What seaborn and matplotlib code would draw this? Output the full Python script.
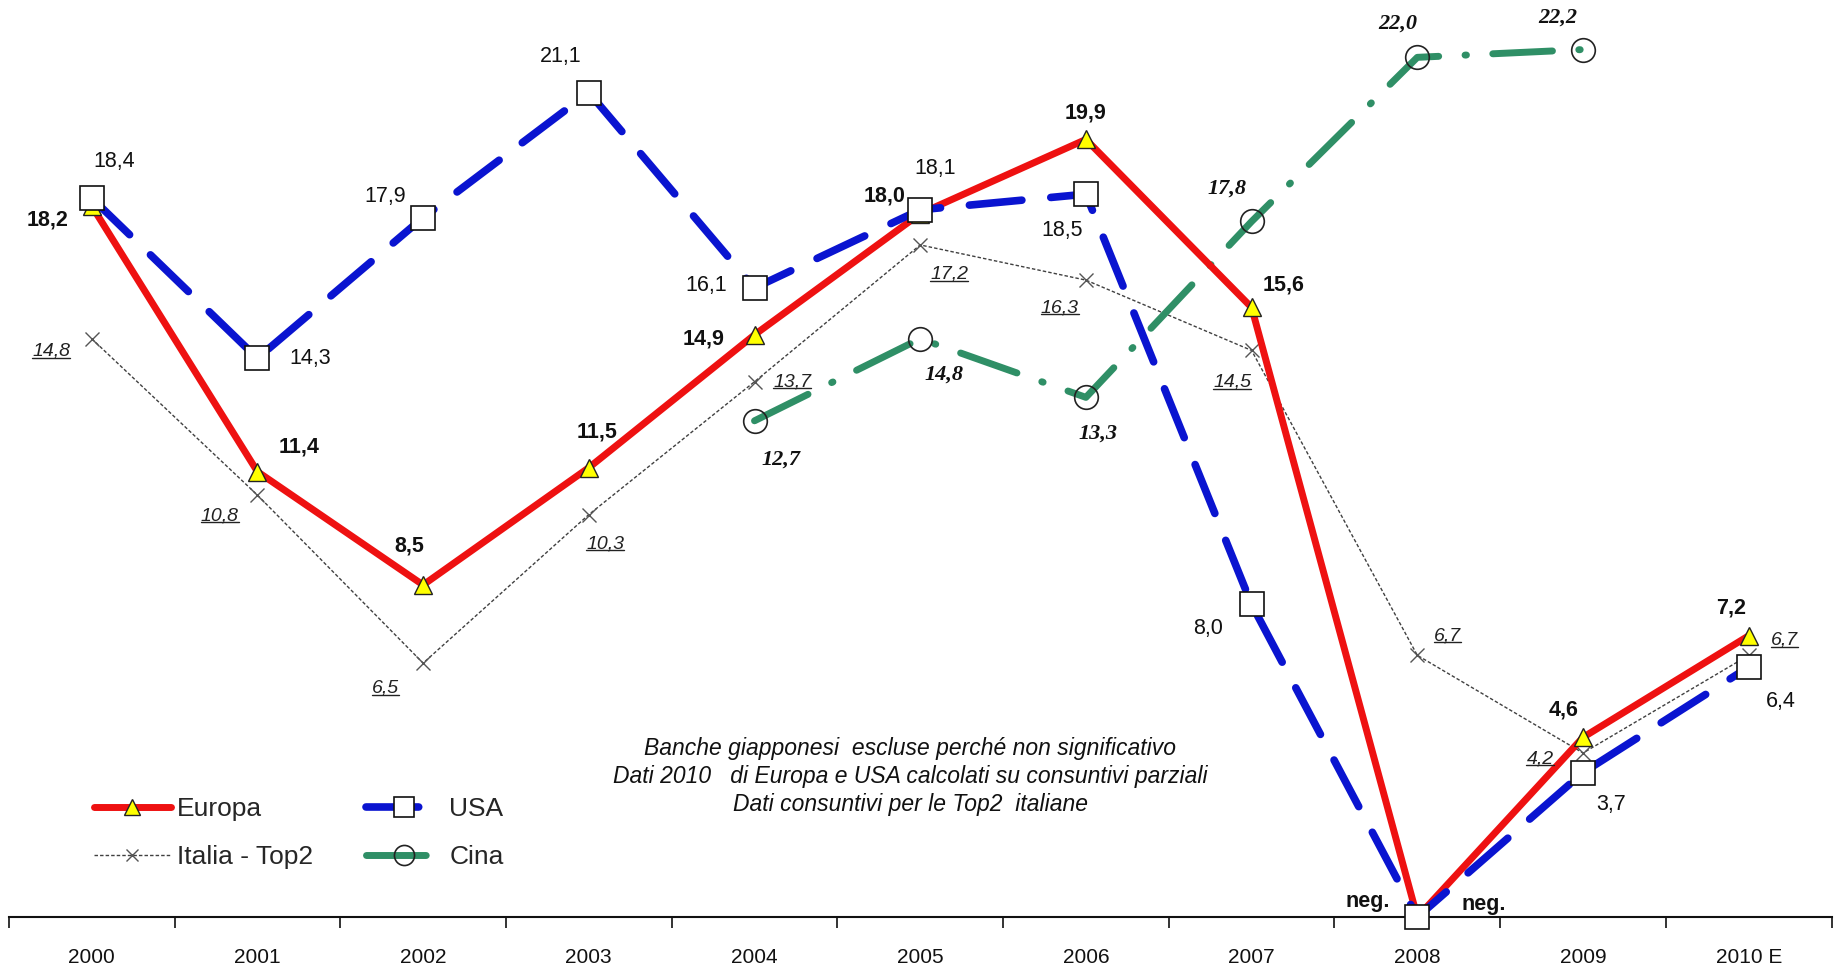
import numpy as np
import pandas as pd
import matplotlib
matplotlib.use("Agg")
import matplotlib.pyplot as plt
from matplotlib.lines import Line2D
import seaborn as sns

years = ['2000', '2001', '2002', '2003', '2004', '2005', '2006', '2007', '2008', '2009', '2010 E']
neg_years = ['2008']  # shown as "neg." and drawn at zero

europa = [18.2, 11.4, 8.5, 11.5, 14.9, 18.0, 19.9, 15.6, 0.0, 4.6, 7.2]
usa = [18.4, 14.3, 17.9, 21.1, 16.1, 18.1, 18.5, 8.0, 0.0, 3.7, 6.4]
italia = [14.8, 10.8, 6.5, 10.3, 13.7, 17.2, 16.3, 14.5, 6.7, 4.2, 6.7]
cina = [np.nan, np.nan, np.nan, np.nan, 12.7, 14.8, 13.3, 17.8, 22.0, 22.2, np.nan]

note_lines = ["Banche giapponesi  escluse perché non significativo",
              "Dati 2010   di Europa e USA calcolati su consuntivi parziali",
              "Dati consuntivi per le Top2  italiane"]

# label offsets in points (dx, dy)
off_europa = [(-32, -10), (30, 18), (-10, 28), (6, 26), (-37, -3), (-26, 13), (0, 19), (23, 16), (-36, 11), (-14, 20), (-13, 20)]
off_usa = [(16, 26), (38, 0), (-27, 15), (-20, 26), (-35, 2), (11, 30), (-17, -26), (-31, -17), (48, 9), (20, -23), (23, -25)]
off_italia = [(-29, -9), (-27, -15), (-27, -18), (12, -21), (27, 0), (21, -21), (-19, -20), (-14, -23), (22, 14), (-31, -4), (26, 11)]
off_cina = [None, None, None, None, (19, -28), (17, -26), (9, -26), (-18, 24), (-14, 24), (-18, 23), None]

sns.set_theme(style='white')
plt.rcParams['font.family'] = ['Liberation Sans', 'DejaVu Sans']

df = pd.DataFrame({'x': np.arange(len(years)), 'Europa': europa, 'USA': usa,
                   'Italia': italia, 'Cina': cina})

fig = plt.figure(figsize=(18.43, 9.76), dpi=100)
ax = fig.add_axes([0.0048, 0.0603, 0.989, 0.933])

sns.lineplot(data=df, x='x', y='Italia', ax=ax, estimator=None, label='Italia - Top2',
             color='#404040', linewidth=1.0, linestyle=(0, (2.5, 1.5)),
             marker='x', markersize=10, markeredgecolor='#555555', markeredgewidth=1.0,
             clip_on=False, zorder=2)
sns.lineplot(data=df, x='x', y='Cina', ax=ax, estimator=None, label='Cina',
             color='#2f8f66', linewidth=5, linestyle=(0, (8.6, 3.8, 0.2, 3.8)),
             dash_capstyle='round', marker='o', markersize=17, markerfacecolor='none',
             markeredgecolor='#222222', markeredgewidth=1.2, clip_on=False, zorder=3)
sns.lineplot(data=df, x='x', y='Europa', ax=ax, estimator=None, label='Europa',
             color='#ee1111', linewidth=5, marker='^', markersize=13,
             markerfacecolor='#ffff00', markeredgecolor='#222222', markeredgewidth=1.0,
             clip_on=False, zorder=4)
sns.lineplot(data=df, x='x', y='USA', ax=ax, estimator=None, label='USA',
             color='#0a14d0', linewidth=5.5, linestyle=(0, (6.9, 3.8)),
             dash_capstyle='round', marker='s', markersize=17, markerfacecolor='white',
             markeredgecolor='#111111', markeredgewidth=1.2, clip_on=False, zorder=5)


def fmt(v, yr):
    if yr in neg_years:
        return 'neg.'
    return f"{v:.1f}".replace('.', ',')


italia_texts = []
for i, yr in enumerate(years):
    ax.annotate(fmt(europa[i], yr), (i, europa[i]), xytext=off_europa[i], textcoords='offset points',
                ha='center', va='center', fontsize=15.5, fontweight='bold', color='#111111')
    ax.annotate(fmt(usa[i], yr), (i, usa[i]), xytext=off_usa[i], textcoords='offset points',
                ha='center', va='center', fontsize=15.5,
                fontweight='bold' if yr in neg_years else 'normal', color='#111111')
    t = ax.annotate(fmt(italia[i], ''), (i, italia[i]), xytext=off_italia[i], textcoords='offset points',
                    ha='center', va='center', fontsize=14, style='italic', color='#222222')
    italia_texts.append(t)
    if off_cina[i] is not None:
        ax.annotate(fmt(cina[i], ''), (i, cina[i]), xytext=off_cina[i], textcoords='offset points',
                    ha='center', va='center', fontsize=16, fontweight='bold', style='italic',
                    family=['Liberation Serif', 'DejaVu Serif'], color='#111111')

ax.text(4.94, 3.6, "\n".join(note_lines), ha='center', va='center', multialignment='center',
        fontsize=16.5, style='italic', linespacing=1.28, color='#111111')

ax.set_xlim(-0.5, 10.5)
ax.set_ylim(0, 23.3)
ax.set_xlabel('')
ax.set_ylabel('')
ax.set_yticks([])
ax.set_xticks(np.arange(len(years)))
ax.set_xticklabels(years, fontsize=15, color='#111111')
ax.set_xticks(np.arange(-0.5, len(years)), minor=True)
ax.tick_params(axis='x', which='major', length=0, pad=22)
ax.tick_params(axis='x', which='minor', length=8, width=1.2, color='#111111', direction='out', bottom=True)
for s in ['left', 'top', 'right']:
    ax.spines[s].set_visible(False)
ax.spines['bottom'].set_color('#111111')
ax.spines['bottom'].set_linewidth(1.5)

handles, labels = ax.get_legend_handles_labels()
order = [labels.index(n) for n in ['Europa', 'Italia - Top2', 'USA', 'Cina']]
ax.legend([handles[k] for k in order], [labels[k] for k in order], ncol=2,
          loc='center left', bbox_to_anchor=(94 / 1843, 1 - 833 / 976), bbox_transform=fig.transFigure,
          frameon=False, fontsize=19, handlelength=2.9, handletextpad=0.25, columnspacing=2.0,
          labelspacing=0.9, borderpad=0, borderaxespad=0, markerscale=0.85)

# underline the Italia labels
fig.canvas.draw()
renderer = fig.canvas.get_renderer()
W, H = fig.bbox.width, fig.bbox.height
for t in italia_texts:
    bb = t.get_window_extent(renderer)
    yy = (bb.y0 + 2) / H
    fig.add_artist(Line2D([bb.x0 / W, bb.x1 / W], [yy, yy], transform=fig.transFigure,
                          color='#222222', linewidth=1.0))

fig.savefig('out.png', dpi=100)
